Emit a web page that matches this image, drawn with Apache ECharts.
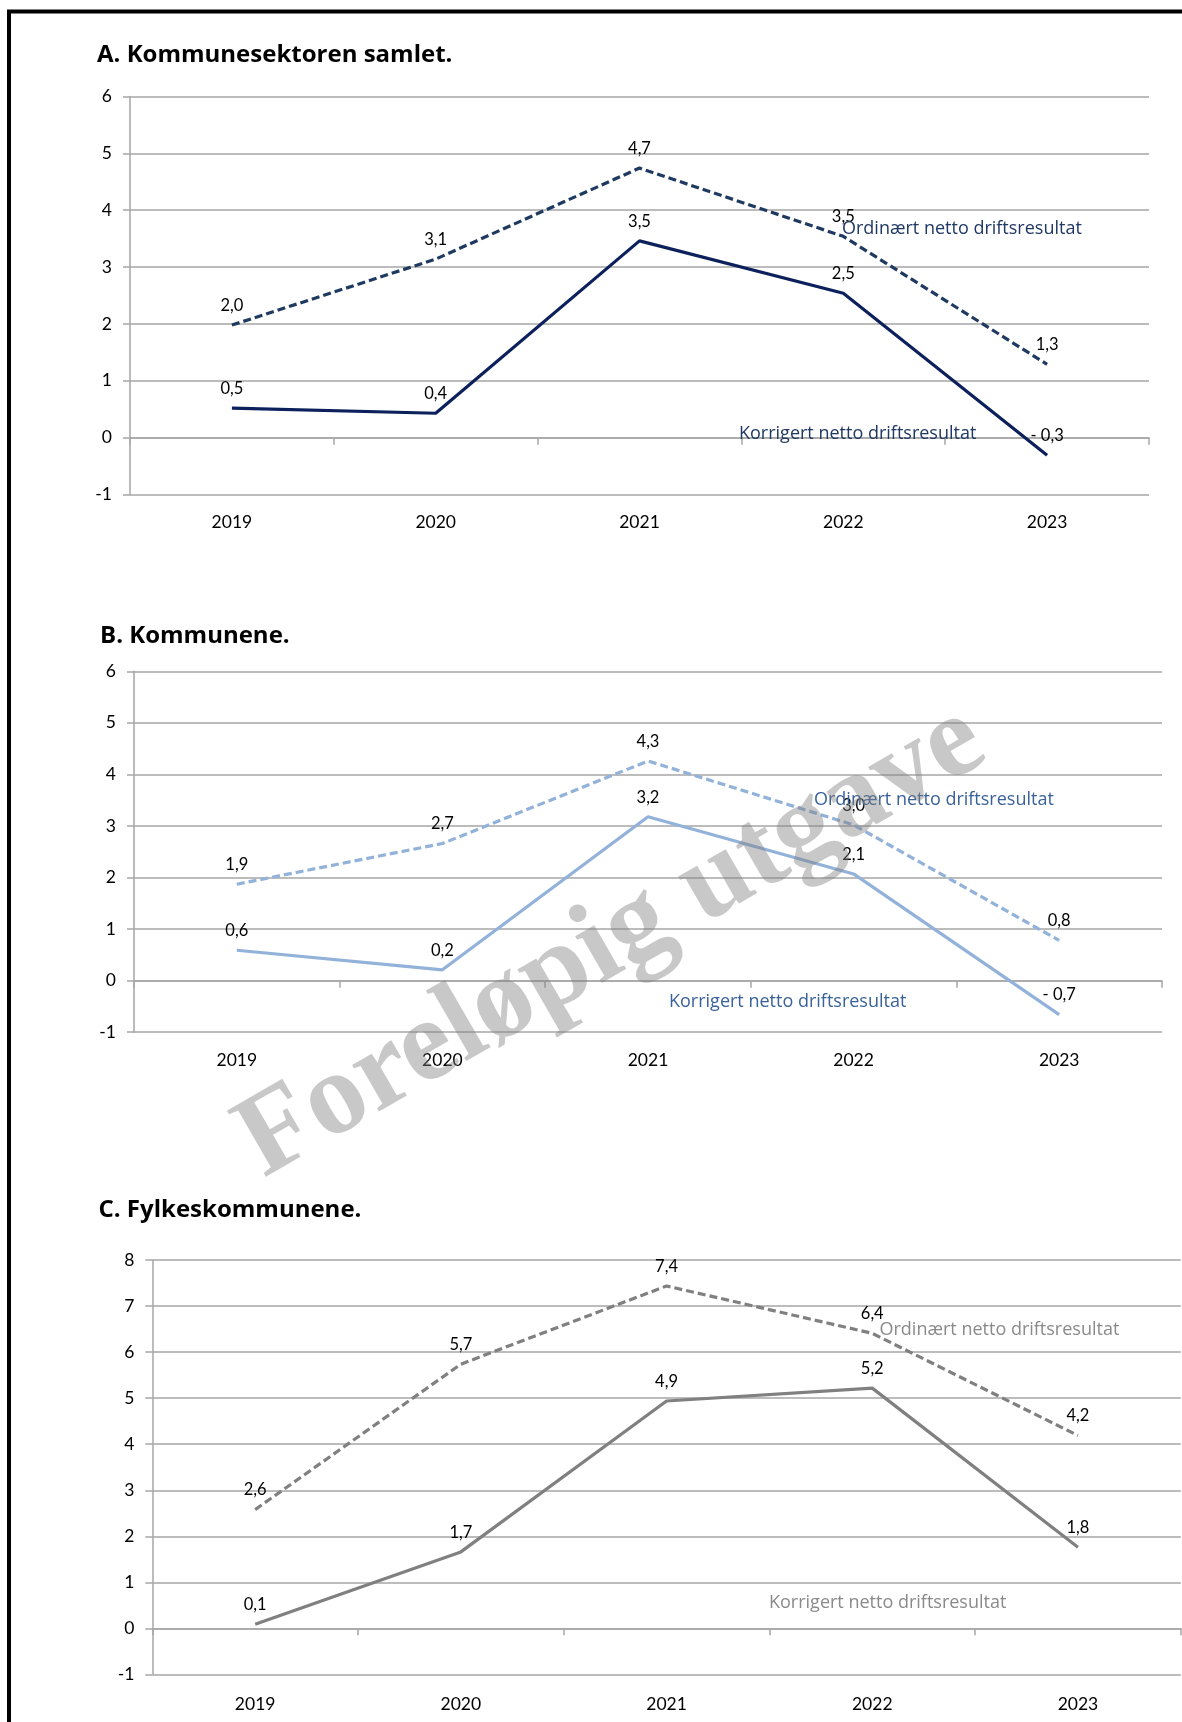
<!DOCTYPE html>
<html>
<head>
<meta charset="utf-8">
<script src="https://cdn.jsdelivr.net/npm/echarts@6/dist/echarts.min.js"></script>
<style>
  html, body { margin: 0; padding: 0; background: #fff; }
  #chart { width: 1182px; height: 1722px; }
</style>
</head>
<body>
<div id="chart"></div>
<script>
// Netto driftsresultat i prosent av driftsinntektene, 2019–2023
const years = ['2019', '2020', '2021', '2022', '2023'];

const ordinaertA = [1.98, 3.14, 4.74, 3.54, 1.29];
const korrigertA = [0.52, 0.43, 3.46, 2.54, -0.31];

const ordinaertB = [1.87, 2.66, 4.26, 3.02, 0.78];
const korrigertB = [0.59, 0.21, 3.18, 2.07, -0.66];

const ordinaertC = [2.58, 5.74, 7.44, 6.41, 4.19];
const korrigertC = [0.09, 1.66, 4.94, 5.22, 1.76];

const yRangeA = [-1, 6];
const yRangeB = [-1, 6];
const yRangeC = [-1, 8];

const titles = ['A. Kommunesektoren samlet.', 'B. Kommunene.', 'C. Fylkeskommunene.'];
const nameOrdinaert = 'Ordinært netto driftsresultat';
const nameKorrigert = 'Korrigert netto driftsresultat';
const watermark = 'Foreløpig utgave';

const FONT = 'Lato, "Noto Sans", sans-serif';
const NOTE_FONT = '"Open Sans", "Noto Sans", sans-serif';
const GRID_COLOR = '#a6a6a6';

// panel layout (pixels)
const panels = [
  { grid: { left: 130, top: 96.4, width: 1019, height: 398.2 }, range: yRangeA,
    ord: ordinaertA, kor: korrigertA, ordColor: '#1f3a60', korColor: '#0c215c', textColor: '#1f3864',
    title: { x: 97, y: 55 }, ordText: { x: 842, y: 229 }, korText: { x: 739, y: 434 } },
  { grid: { left: 134, top: 671.3, width: 1028, height: 360.9 }, range: yRangeB,
    ord: ordinaertB, kor: korrigertB, ordColor: '#92b2da', korColor: '#92b2da', textColor: '#3a629a',
    title: { x: 100, y: 636 }, ordText: { x: 814, y: 800 }, korText: { x: 669, y: 1002 } },
  { grid: { left: 152.3, top: 1260.2, width: 1028.5, height: 414.1 }, range: yRangeC,
    ord: ordinaertC, kor: korrigertC, ordColor: '#808080', korColor: '#808080', textColor: '#8a8a8a',
    title: { x: 98.5, y: 1210 }, ordText: { x: 879.5, y: 1330 }, korText: { x: 769, y: 1603 } }
];

function fmt(v) {
  const s = Math.abs(v).toFixed(1).replace('.', ',');
  return v < 0 ? '- ' + s : s;
}

const grid = [], xAxis = [], yAxis = [], series = [], graphic = [];

panels.forEach((p, i) => {
  grid.push(Object.assign({ containLabel: false }, p.grid));

  // axis line through zero with category boundary ticks
  xAxis.push({
    type: 'category', gridIndex: i, data: years, boundaryGap: true, position: 'bottom',
    axisLine: { show: true, onZero: true, lineStyle: { color: GRID_COLOR, width: 1.5 } },
    axisTick: { show: true, length: 7, interval: 0, lineStyle: { color: GRID_COLOR, width: 1.5 } },
    axisLabel: { show: false },
    splitLine: { show: false }
  });
  // year labels below the plot
  xAxis.push({
    type: 'category', gridIndex: i, data: years, boundaryGap: true, position: 'bottom',
    axisLine: { show: false, onZero: false },
    axisTick: { show: false },
    axisLabel: { show: true, interval: 0, margin: i === 2 ? 21 : 19, color: '#000', fontSize: 17.5, fontFamily: FONT },
    splitLine: { show: false }
  });

  yAxis.push({
    type: 'value', gridIndex: i, min: p.range[0], max: p.range[1], interval: 1,
    axisLine: { show: true, lineStyle: { color: GRID_COLOR, width: 1.5 } },
    axisTick: { show: true, length: 7, lineStyle: { color: GRID_COLOR, width: 1.5 } },
    axisLabel: { margin: 18, color: '#000', fontSize: 17.5, fontFamily: FONT },
    splitLine: { show: true, lineStyle: { color: GRID_COLOR, width: 1.5 } }
  });

  const label = {
    show: true, position: 'top', distance: 11, color: '#000', fontSize: 16.5, fontFamily: FONT,
    formatter: (d) => fmt(d.value)
  };

  series.push({
    name: nameOrdinaert, type: 'line', xAxisIndex: 2 * i, yAxisIndex: i, data: p.ord,
    symbol: 'circle', symbolSize: 0, animation: false, silent: true,
    lineStyle: { color: p.ordColor, width: 3.2, type: [8, 4] },
    itemStyle: { color: p.ordColor }, label: label
  });
  series.push({
    name: nameKorrigert, type: 'line', xAxisIndex: 2 * i, yAxisIndex: i, data: p.kor,
    symbol: 'circle', symbolSize: 0, animation: false, silent: true,
    lineStyle: { color: p.korColor, width: 3.2, type: 'solid' },
    itemStyle: { color: p.korColor }, label: label
  });

  graphic.push({
    type: 'text', x: p.title.x, y: p.title.y, z: 100,
    style: { text: titles[i], fill: '#000', font: 'bold 24px ' + NOTE_FONT, verticalAlign: 'middle' }
  });
  graphic.push({
    type: 'text', x: p.ordText.x, y: p.ordText.y, z: 100,
    style: { text: nameOrdinaert, fill: p.textColor, font: '18px ' + NOTE_FONT, verticalAlign: 'middle' }
  });
  graphic.push({
    type: 'text', x: p.korText.x, y: p.korText.y, z: 100,
    style: { text: nameKorrigert, fill: p.textColor, font: '18px ' + NOTE_FONT, verticalAlign: 'middle' }
  });
});

// page frame (left and top edges)
graphic.push({
  type: 'polyline', z: 100,
  shape: { points: [[9, 1722], [9, 11.5], [1182, 11.5]] },
  style: { stroke: '#000', lineWidth: 4, fill: null }
});

// draft stamp across panel B
graphic.push({
  type: 'text', x: 612, y: 942, rotation: 30 * Math.PI / 180, z: 110,
  style: {
    text: watermark, fill: 'rgba(128,128,128,0.43)',
    font: 'bold 117px "Liberation Serif", "DejaVu Serif", serif',
    align: 'center', verticalAlign: 'middle'
  }
});

const chart = echarts.init(document.getElementById('chart'), null, { renderer: 'canvas' });
chart.setOption({
  animation: false,
  backgroundColor: '#fff',
  grid, xAxis, yAxis, series, graphic
});
</script>
</body>
</html>
